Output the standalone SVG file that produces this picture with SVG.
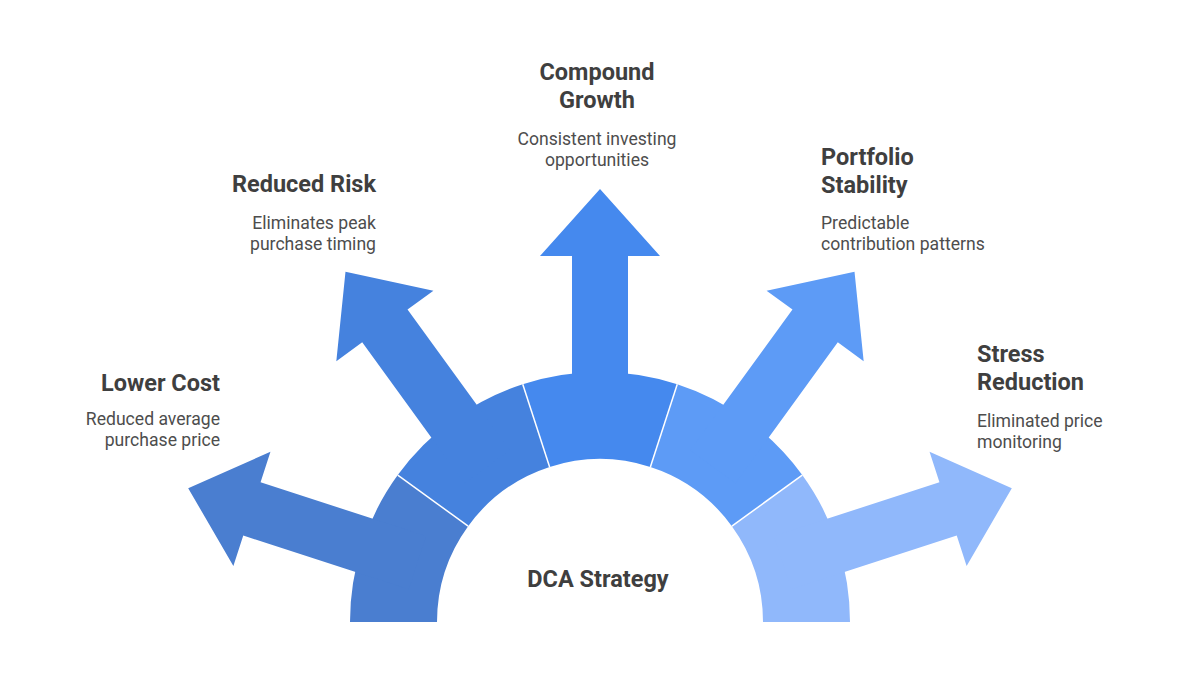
<svg xmlns="http://www.w3.org/2000/svg" width="1199" height="692" viewBox="0 0 1199 692">
<style>
.t{font-family:Roboto,"Liberation Sans",sans-serif;font-weight:700;font-size:23.5px;fill:#3f3f3f}
.d{font-family:Roboto,"Liberation Sans",sans-serif;font-size:17.6px;fill:#4d4d4d}
.div{stroke:#ffffff;stroke-width:1.5;fill:none}
</style>
<defs>
<polygon id="arrow" points="572,430 572,256 540,256 600,189 660,256 628,256 628,430"/>
</defs>
<rect width="1199" height="692" fill="#ffffff"/>
<g id="node-lower-cost" fill="#4a7ed0">
<path d="M350,622 A250,250 0 0 1 397.746,475.054 L468.130,526.191 A163,163 0 0 0 437,622 Z"/>
<use href="#arrow" transform="rotate(-72 600 622)"/>
<text class="t" x="220" y="391" text-anchor="end">Lower Cost</text>
<text class="d" x="220" y="425" text-anchor="end">Reduced average</text>
<text class="d" x="220" y="446" text-anchor="end">purchase price</text>
</g>
<g id="node-reduced-risk" fill="#4582de">
<path d="M397.746,475.054 A250,250 0 0 1 522.746,384.236 L549.630,466.978 A163,163 0 0 0 468.130,526.191 Z"/>
<use href="#arrow" transform="rotate(-36 600 622)"/>
<text class="t" x="376" y="192" text-anchor="end">Reduced Risk</text>
<text class="d" x="376" y="229" text-anchor="end">Eliminates peak</text>
<text class="d" x="376" y="250" text-anchor="end">purchase timing</text>
</g>
<g id="node-compound-growth" fill="#4589ee">
<path d="M522.746,384.236 A250,250 0 0 1 677.254,384.236 L650.370,466.978 A163,163 0 0 0 549.630,466.978 Z"/>
<use href="#arrow"/>
<text class="t" x="597" y="80" text-anchor="middle">Compound</text>
<text class="t" x="597" y="108" text-anchor="middle">Growth</text>
<text class="d" x="597" y="145" text-anchor="middle">Consistent investing</text>
<text class="d" x="597" y="166" text-anchor="middle">opportunities</text>
</g>
<g id="node-portfolio-stability" fill="#5d9bf6">
<path d="M677.254,384.236 A250,250 0 0 1 802.254,475.054 L731.870,526.191 A163,163 0 0 0 650.370,466.978 Z"/>
<use href="#arrow" transform="rotate(36 600 622)"/>
<text class="t" x="821" y="165">Portfolio</text>
<text class="t" x="821" y="193">Stability</text>
<text class="d" x="821" y="229">Predictable</text>
<text class="d" x="821" y="250">contribution patterns</text>
</g>
<g id="node-stress-reduction" fill="#90b8fb">
<path d="M802.254,475.054 A250,250 0 0 1 850,622 L763,622 A163,163 0 0 0 731.870,526.191 Z"/>
<use href="#arrow" transform="rotate(72 600 622)"/>
<text class="t" x="977" y="362">Stress</text>
<text class="t" x="977" y="390">Reduction</text>
<text class="d" x="977" y="427">Eliminated price</text>
<text class="d" x="977" y="448">monitoring</text>
</g>
<g id="connectors">
<line class="div" x1="468.130" y1="526.191" x2="397.746" y2="475.054"/>
<line class="div" x1="549.630" y1="466.978" x2="522.746" y2="384.236"/>
<line class="div" x1="650.370" y1="466.978" x2="677.254" y2="384.236"/>
<line class="div" x1="731.870" y1="526.191" x2="802.254" y2="475.054"/>
</g>
<g id="node-center">
<text class="t" x="598" y="587" text-anchor="middle">DCA Strategy</text>
</g>
</svg>
